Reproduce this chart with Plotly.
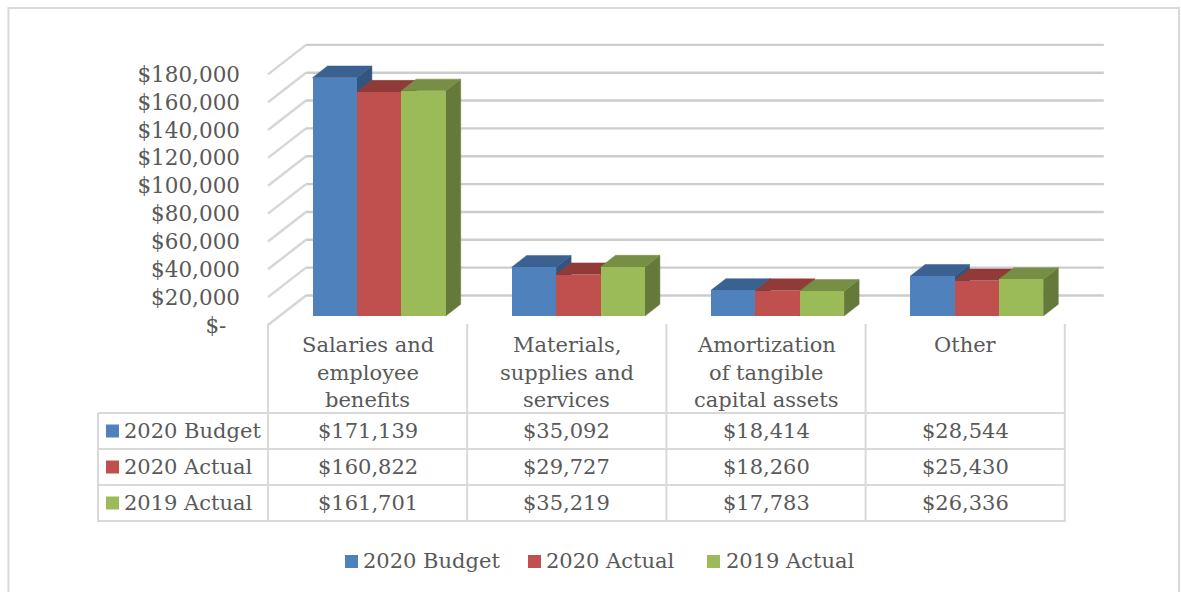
import plotly.graph_objects as go

W, H = 1181, 592

# ---- data ----
categories = ["Salaries and<br>employee<br>benefits", "Materials,<br>supplies and<br>services",
              "Amortization<br>of tangible<br>capital assets", "Other"]
series_names = ["2020 Budget", "2020 Actual", "2019 Actual"]
budget_2020 = [171139, 35092, 18414, 28544]
actual_2020 = [160822, 29727, 18260, 25430]
actual_2019 = [161701, 35219, 17783, 26336]
tick_values = [0, 20000, 40000, 60000, 80000, 100000, 120000, 140000, 160000, 180000]
tick_labels = ["$-\u00a0\u00a0"] + [f"${v:,}" for v in tick_values[1:]]

series_values = [budget_2020, actual_2020, actual_2019]
front_colors = ["#4f81bd", "#c0504d", "#9bbb59"]
top_colors = ["#3b6190", "#913b39", "#768f44"]
side_colors = ["#32557f", "#7d3230", "#657a3a"]

FONT = "DejaVu Serif"
FSIZE = 21
TEXT = "#595959"
RULE = "#d9d9d9"
GRID = "#cdcdcd"

# ---- oblique projection (pixels) ----
PX_PER_VALUE = 27.85 / 20000
CAT_W = 199.2
CAT0_CENTER = 367.6
FRONT_Y0 = 325        # zero line on the front edge of the floor
BAR_BASE_Y0 = 316     # zero line at the front of the bars
WALL_DX, WALL_DY = 38, 29.5
BAR_DX, BAR_DY = 15, 11.7
BAR_SHIFT = 11.5
BAR_W = 44.4 / CAT_W


def rng_x():
    return [(0 - CAT0_CENTER) / CAT_W, (W - CAT0_CENTER) / CAT_W]


def rng_y(y0):
    return [(y0 - H) / PX_PER_VALUE, y0 / PX_PER_VALUE]


def dv(px):
    return px / PX_PER_VALUE


def dc(px):
    return px / CAT_W


fig = go.Figure()

# ---- side wall and back wall gridlines ----
wall_x, wall_y = [], []
back_x, back_y = [], []
left, right = -0.5, len(categories) - 0.5
for v in tick_values:
    wall_x += [left, left + dc(WALL_DX), None]
    wall_y += [v, v + dv(WALL_DY), None]
    back_x += [left + dc(WALL_DX), right + dc(WALL_DX + 1), None]
    back_y += [v + dv(WALL_DY), v + dv(WALL_DY), None]
for xs, ys, color in ((wall_x, wall_y, "#d6d6d6"), (back_x, back_y, GRID)):
    fig.add_trace(go.Scatter(x=xs, y=ys, mode="lines", line=dict(color=color, width=2.4),
                             hoverinfo="skip", showlegend=False))

# ---- side and top faces, left to right so nearer series cover farther ones ----
base_off = dv(FRONT_Y0 - BAR_BASE_Y0)
for s, vals in enumerate(series_values):
    for c, v in enumerate(vals):
        x0 = c + dc(BAR_SHIFT) + (s - 1.5) * BAR_W
        x1 = x0 + BAR_W
        ddx, ddy = dc(BAR_DX), dv(BAR_DY)
        side_x = [x1, x1 + ddx, x1 + ddx, x1, x1]
        side_y = [base_off, base_off + ddy, v + base_off + ddy, v + base_off, base_off]
        top_x = [x0, x1, x1 + ddx, x0 + ddx, x0]
        top_y = [v + base_off, v + base_off, v + base_off + ddy, v + base_off + ddy, v + base_off]
        for fx_, fy_, col in ((side_x, side_y, side_colors[s]), (top_x, top_y, top_colors[s])):
            fig.add_trace(go.Scatter(x=fx_, y=fy_, mode="lines", fill="toself", fillcolor=col,
                                     line=dict(color=col, width=0.5), hoverinfo="skip",
                                     showlegend=False))

# ---- front faces, on an overlay whose zero sits at the bar base ----
for s, vals in enumerate(series_values):
    fig.add_trace(go.Bar(x=[c + dc(BAR_SHIFT) + (s - 1) * BAR_W for c in range(len(vals))],
                         y=vals, width=BAR_W, name=series_names[s],
                         marker=dict(color=front_colors[s], line=dict(width=0)),
                         xaxis="x2", yaxis="y2", showlegend=False))


def fx(px):
    return px / W


def fy(py):
    return 1 - py / H


shapes = []


def rule(x0, y0, x1, y1, color=RULE, width=2):
    shapes.append(dict(type="line", xref="paper", yref="paper", x0=fx(x0), y0=fy(y0),
                       x1=fx(x1), y1=fy(y1), line=dict(color=color, width=width), layer="below"))


def swatch(px, py, color):
    shapes.append(dict(type="rect", xref="paper", yref="paper", x0=fx(px), x1=fx(px + 13),
                       y0=fy(py - 6.5), y1=fy(py + 6.5), fillcolor=color, line=dict(width=0)))


# outer frame, open at the bottom edge
rule(8.5, 8, 1179, 8)
rule(8.5, 7, 8.5, 592)
rule(1179, 7, 1179, 592)

# data table rules
COL_X = [CAT0_CENTER - CAT_W / 2 + CAT_W * i for i in range(5)]
ROW_Y = [413, 449, 485, 521]
for x in COL_X:
    rule(x, 324, x, 522)
rule(98, ROW_Y[0], 98, 522)
for y in ROW_Y:
    rule(98, y, COL_X[-1], y)

annotations = []


def label(px, py, text, anchor="center"):
    annotations.append(dict(xref="paper", yref="paper", x=fx(px), y=fy(py), text=text, showarrow=False,
                            xanchor=anchor, yanchor="middle", align="center",
                            font=dict(family=FONT, size=FSIZE, color=TEXT)))


# category headers, one annotation per wrapped line
for c, name in enumerate(categories):
    for i, line in enumerate(name.split("<br>")):
        label(CAT0_CENTER + CAT_W * c, 345 + 27.5 * i, line)

# table body
for s, vals in enumerate(series_values):
    row_mid = (ROW_Y[s] + ROW_Y[s + 1]) / 2
    swatch(106, row_mid, front_colors[s])
    label(122, row_mid, series_names[s], "left")
    for c, v in enumerate(vals):
        label(CAT0_CENTER + CAT_W * c, row_mid, f"${v:,}")

# legend row
for s, (sw_x, tx_x) in enumerate(zip([345, 528, 707], [361, 544, 724])):
    swatch(sw_x, 561.5, front_colors[s])
    label(tx_x, 561, series_names[s], "left")

fig.update_layout(
    width=W, height=H, margin=dict(l=0, r=0, t=0, b=0, pad=0),
    paper_bgcolor="white", plot_bgcolor="rgba(0,0,0,0)",
    autosize=False, showlegend=False, bargap=0,
    xaxis=dict(range=rng_x(), visible=False, domain=[0, 1]),
    yaxis=dict(range=rng_y(FRONT_Y0), domain=[0, 1], anchor="free", position=240 / W,
               tickvals=tick_values, ticktext=tick_labels, showgrid=False, zeroline=False,
               showline=False, ticks="", ticklabelposition="outside",
               tickfont=dict(family=FONT, size=21.5, color=TEXT)),
    xaxis2=dict(range=rng_x(), visible=False, overlaying="x", domain=[0, 1]),
    yaxis2=dict(range=rng_y(BAR_BASE_Y0), visible=False, overlaying="y", domain=[0, 1]),
    shapes=shapes, annotations=annotations,
)

fig.write_html("out.html", config=dict(displayModeBar=False))
